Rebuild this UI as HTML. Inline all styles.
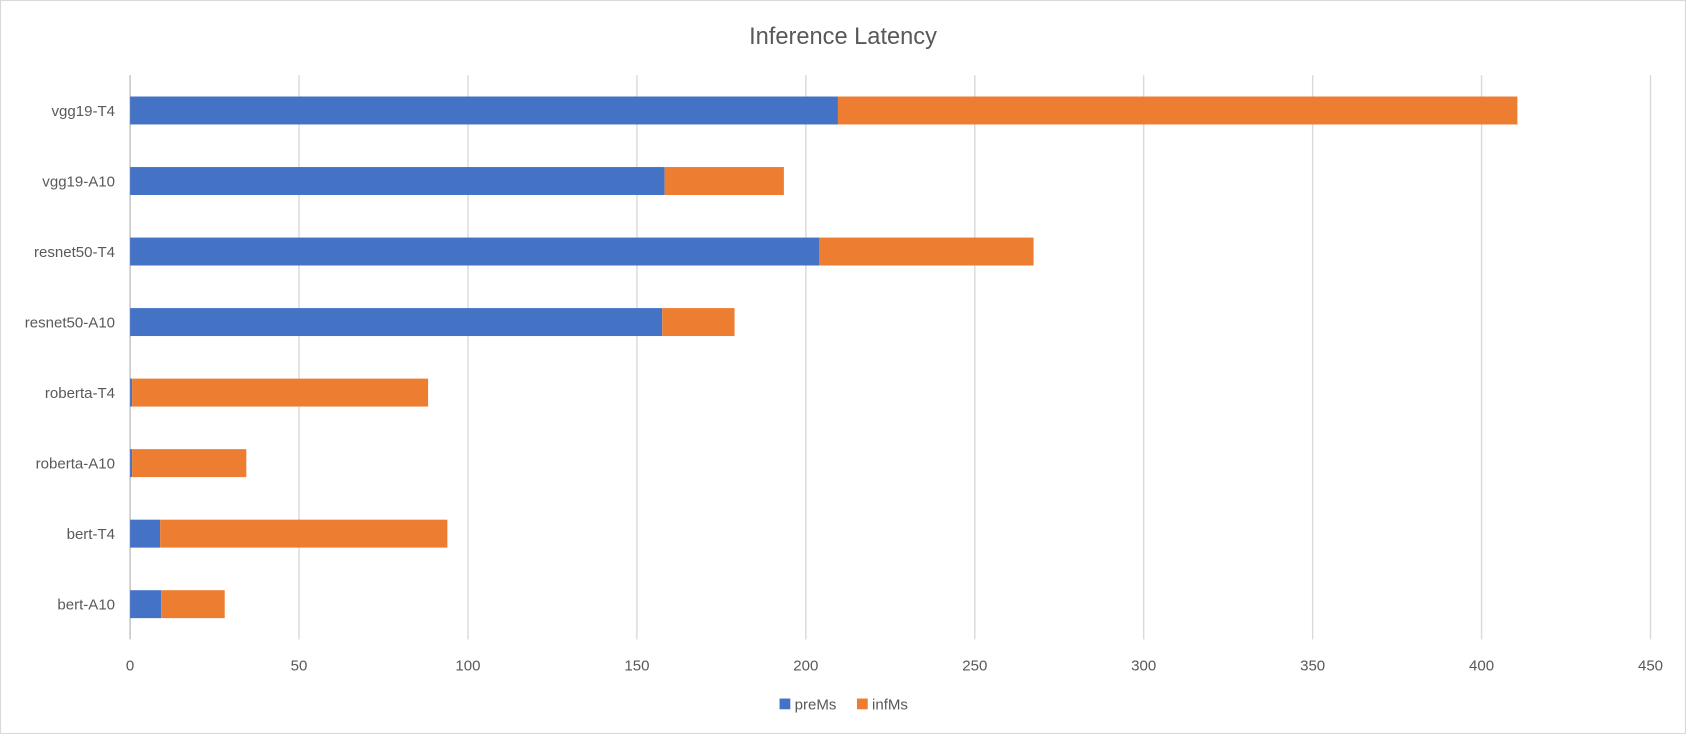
<!DOCTYPE html>
<html><head><meta charset="utf-8"><style>
html,body{margin:0;padding:0;background:#fff;}
svg{display:block;font-family:"Liberation Sans",sans-serif;}
</style></head><body>
<svg id="chart" width="1686" height="734" viewBox="0 0 1568 683" preserveAspectRatio="none">
<rect x="0.5" y="0.5" width="1567" height="682" fill="#fff" stroke="#d9d9d9"/>
<text x="784" y="41" font-size="22" fill="#595959" text-anchor="middle">Inference Latency</text>
<g id="grid"></g><g id="bars"></g><g id="labels"></g>
<g>
<rect x="725" y="650" width="10" height="10" fill="#4472c4"/>
<text x="739" y="660" font-size="14" fill="#595959">preMs</text>
<rect x="797" y="650" width="10" height="10" fill="#ed7d31"/>
<text x="811" y="660" font-size="14" fill="#595959">infMs</text>
</g>
</svg>
<script>
const categories=["vgg19-T4","vgg19-A10","resnet50-T4","resnet50-A10","roberta-T4","roberta-A10","bert-T4","bert-A10"];
const preMs=[209.5,158.2,204,157.5,0.6,0.6,8.9,9.2];
const infMs=[201.1,35.3,63.4,21.4,87.6,33.8,85.0,18.8];
const ticks=[0,50,100,150,200,250,300,350,400,450];
const NS="http://www.w3.org/2000/svg";
const x0=121,x1=1535,plotTop=70,plotBot=595,maxV=450;
const xs=v=>x0+v/maxV*(x1-x0);
const band=(plotBot-plotTop)/categories.length;
const yc=i=>plotTop+band*(i+0.5);
function mk(tag,attrs,parent){const e=document.createElementNS(NS,tag);for(const k in attrs)e.setAttribute(k,attrs[k]);parent.appendChild(e);return e;}
const grid=document.getElementById('grid'),bars=document.getElementById('bars'),labels=document.getElementById('labels');
ticks.forEach(t=>{
 const l=mk('line',{x1:xs(t),x2:xs(t),y1:plotTop,y2:plotBot,stroke:t===0?'#bfbfbf':'#d9d9d9','stroke-width':1.3},grid);
 
 
 const tx=mk('text',{x:xs(t),y:624,'font-size':14,fill:'#595959','text-anchor':'middle'},labels);
 tx.textContent=t;
 
 
});
categories.forEach((c,i)=>{
 const y=yc(i),h=26;
 const a=mk('rect',{x:xs(0),y:y-h/2,width:xs(preMs[i])-xs(0),height:h,fill:'#4472c4'},bars);
 
 
 const b=mk('rect',{x:xs(preMs[i]),y:y-h/2,width:xs(preMs[i]+infMs[i])-xs(preMs[i]),height:h,fill:'#ed7d31'},bars);
 
 
 const tx=mk('text',{x:107,y:y+5,'font-size':14,fill:'#595959','text-anchor':'end'},labels);
 tx.textContent=c;
 
 
});
</script>
</body></html>
